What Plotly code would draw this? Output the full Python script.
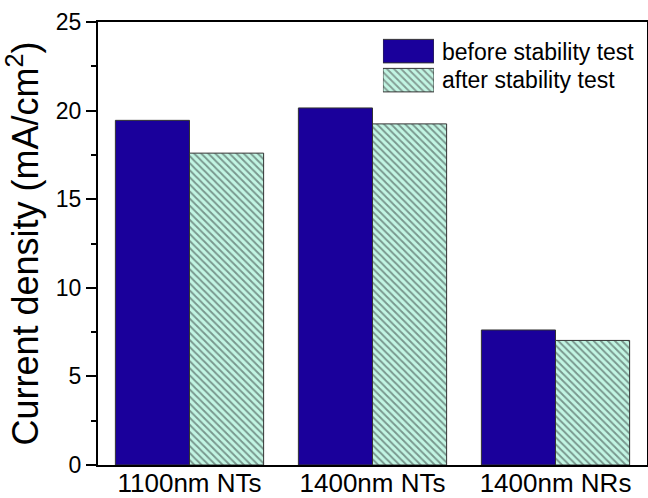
import plotly.graph_objects as go

categories = ["1100nm NTs", "1400nm NTs", "1400nm NRs"]
before_values = [19.45, 20.15, 7.62]
after_values = [17.6, 19.25, 7.03]
series_names = ["before stability test", "after stability test"]
y_ticks = [0, 5, 10, 15, 20, 25]

BLUE = "#1a009b"
MINT = "#c2f5e3"
HATCH = "#2f3a38"
EDGE = "#333333"
FONT = "Liberation Sans, Arial, sans-serif"

fig = go.Figure()
fig.add_trace(go.Bar(
    x=categories, y=before_values, name=series_names[0],
    marker=dict(color=BLUE, line=dict(color=EDGE, width=1)),
    showlegend=False,
))
fig.add_trace(go.Bar(
    x=categories, y=after_values, name=series_names[1],
    marker=dict(color=MINT, line=dict(color=EDGE, width=1),
                pattern=dict(shape="\\", fgcolor=HATCH, bgcolor=MINT, size=5, solidity=0.38)),
    showlegend=False,
))

# custom legend swatches (mini subplot)
fig.add_trace(go.Bar(
    y=[series_names[1], series_names[0]], x=[1, 1], orientation="h",
    xaxis="x2", yaxis="y2", showlegend=False, hoverinfo="skip",
    marker=dict(color=[MINT, BLUE], line=dict(color=EDGE, width=1),
                pattern=dict(shape=["\\", ""], fgcolor=HATCH, size=5, solidity=0.38)),
))

fig.update_layout(
    width=648, height=498,
    margin=dict(l=98, r=1, t=22, b=33),
    paper_bgcolor="white", plot_bgcolor="white",
    font=dict(family=FONT, color="black"),
    barmode="group", bargap=0.19, bargroupgap=0,
    xaxis=dict(
        showline=True, linecolor="black", linewidth=2, mirror=True,
        ticks="", tickfont=dict(size=26), showgrid=False, zeroline=False,
        automargin=False, ticklabelstandoff=-6,
    ),
    yaxis=dict(
        range=[0, 25], tickvals=y_ticks, showline=True, linecolor="black",
        linewidth=2, mirror=True, ticks="outside", ticklen=10, tickwidth=2,
        tickcolor="black", tickfont=dict(size=23), showgrid=False, zeroline=False,
        automargin=False,
        minor=dict(dtick=2.5, ticks="outside", ticklen=5, tickwidth=2, tickcolor="black", showgrid=False),
        title=dict(text="Current density (mA/cm<sup>2</sup>)", font=dict(size=36), standoff=10),
    ),
    xaxis2=dict(domain=[0.519, 0.612], anchor="y2", range=[0, 1], visible=False),
    yaxis2=dict(domain=[0.836, 0.967], anchor="x2", visible=False,
                categoryorder="array", categoryarray=[series_names[1], series_names[0]]),
    annotations=[
        dict(text=series_names[0], xref="paper", yref="paper", x=0.623, y=0.933,
             xanchor="left", yanchor="middle", showarrow=False, font=dict(size=23)),
        dict(text=series_names[1], xref="paper", yref="paper", x=0.623, y=0.869,
             xanchor="left", yanchor="middle", showarrow=False, font=dict(size=23)),
    ],
)

fig.write_html("out.html")
